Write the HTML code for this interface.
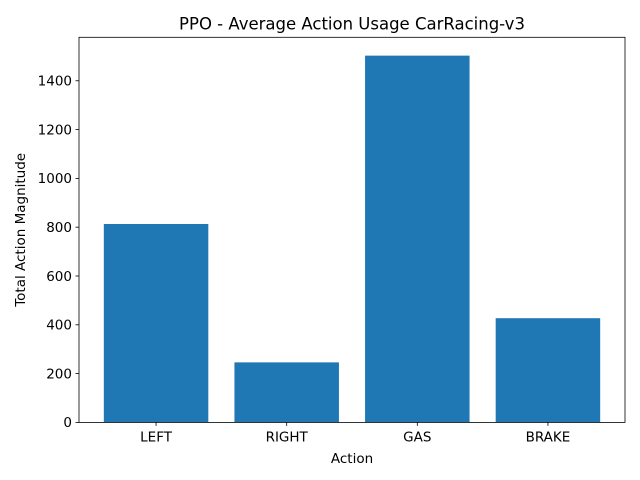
<!DOCTYPE html>
<html><head><meta charset="utf-8"><style>body{margin:0;background:#fff}svg{display:block;font-family:"DejaVu Sans","Liberation Sans",sans-serif}</style></head>
<body>
<svg id="chart" width="640" height="480"></svg>
<script>
const categories = ["LEFT","RIGHT","GAS","BRAKE"];
const values = [813, 246, 1503, 427];
const yTicks = [0,200,400,600,800,1000,1200,1400];
const NS="http://www.w3.org/2000/svg";
const svg=document.getElementById('chart');
const L=79,R=625,T=37.3,B=422.4;
const yMax=Math.max(...values)*1.05;
const xMin=-0.59,xMax=categories.length-1+0.59;
const y=v=>B-(v/yMax)*(B-T);
const x=i=>L+(i-xMin)/(xMax-xMin)*(R-L);
function mk(t,a,txt){const e=document.createElementNS(NS,t);for(const k in a)e.setAttribute(k,a[k]);if(txt!==undefined)e.textContent=txt;svg.appendChild(e);return e;}
const bw=0.8*(R-L)/(xMax-xMin);
values.forEach((v,i)=>{
 const r=mk('rect',{x:x(i)-bw/2,y:y(v),width:bw,height:B-y(v),fill:'#1f77b4'});
 
 
 const tk=mk('line',{x1:x(i),x2:x(i),y1:B,y2:B+3.5,stroke:'#000','stroke-width':0.8});
 
 
 const t=mk('text',{x:x(i),y:B+19,'text-anchor':'middle','font-size':13.5},categories[i]);
 
 
});
yTicks.forEach(v=>{
 const tk=mk('line',{x1:L-3.5,x2:L,y1:y(v),y2:y(v),stroke:'#000','stroke-width':0.8});
 
 
 const t=mk('text',{x:L-7,y:y(v)+4.8,'text-anchor':'end','font-size':13.5},String(v));
 
 
});
const f=mk('rect',{x:L,y:T,width:R-L,height:B-T,fill:'none',stroke:'#000','stroke-width':0.8});


const ti=mk('text',{x:(L+R)/2,y:T-8,'text-anchor':'middle','font-size':16.5},'PPO - Average Action Usage CarRacing-v3');


const xl=mk('text',{x:(L+R)/2,y:463,'text-anchor':'middle','font-size':13.5},'Action');


const yl=mk('text',{x:25,y:(T+B)/2,'text-anchor':'middle','font-size':13.5,transform:`rotate(-90 25 ${(T+B)/2})`},'Total Action Magnitude');


</script>
</body></html>
